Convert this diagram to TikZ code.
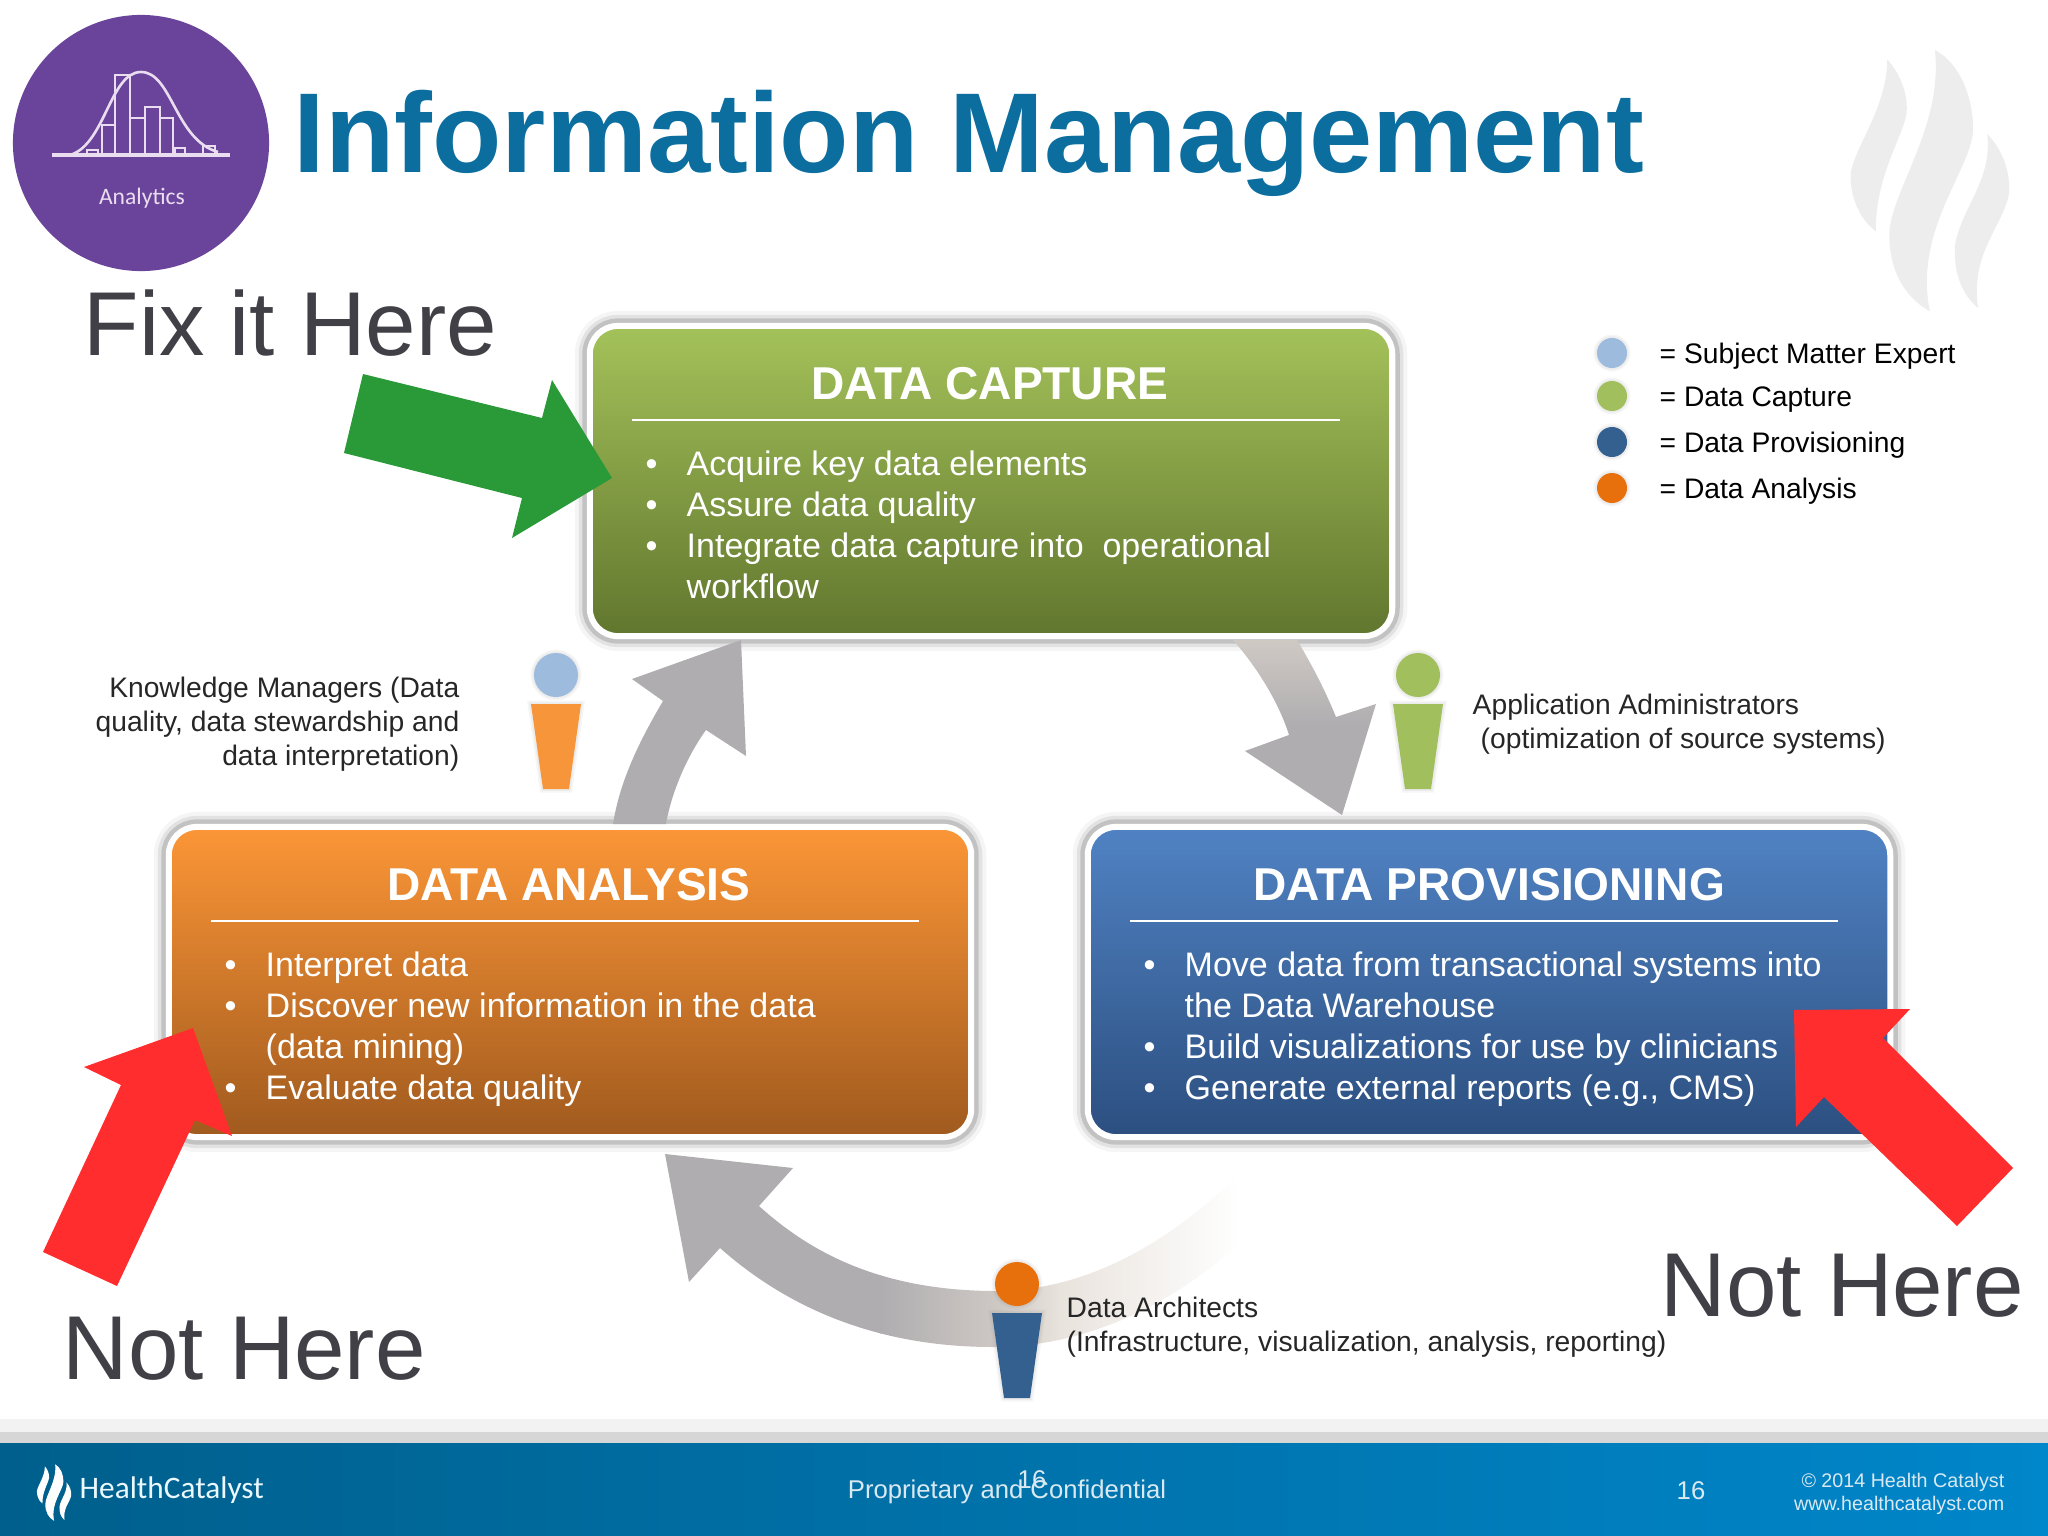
\documentclass[tikz,border=0pt]{standalone}
\usepackage{fontspec}
\setmainfont{Liberation Sans}
\newfontfamily\logofont{Carlito}
\usepackage{xcolor}
\usetikzlibrary{positioning}

\definecolor{titleblue}{HTML}{0B6E9F}
\definecolor{darktext}{HTML}{404046}
\definecolor{arrowgrey}{HTML}{AFADB0}
\definecolor{tailgrey}{HTML}{CFC9C4}
\definecolor{tailpale}{HTML}{E9E3DD}
\definecolor{hotred}{HTML}{FF2D2D}
\definecolor{fixgreen}{HTML}{2A9A38}
\definecolor{smeblue}{HTML}{9DBBDD}
\definecolor{capgreen}{HTML}{A2BF5E}
\definecolor{provblue}{HTML}{33608F}
\definecolor{anaorange}{HTML}{E8700C}
\definecolor{bodyorange}{HTML}{F7953B}
\definecolor{logopurple}{HTML}{6A449B}
\definecolor{logoline}{HTML}{EBDDF0}
\definecolor{footleft}{HTML}{005F8C}
\definecolor{footmid}{HTML}{007AB8}
\definecolor{footright}{HTML}{0086CA}
\definecolor{captop}{HTML}{A4C25A}
\definecolor{capbot}{HTML}{61762E}
\definecolor{anatop}{HTML}{FC9637}
\definecolor{anabot}{HTML}{A05A1E}
\definecolor{provtop}{HTML}{5082C3}
\definecolor{provbot}{HTML}{2C4F80}

\tikzset{
	infobox/.style={rounded corners=0.28cm,draw=white,line width=0.06cm,minimum width=8.02cm,minimum height=3.10cm,
		preaction={draw=black,opacity=.04,line width=0.30cm},
		preaction={draw=black,opacity=.08,line width=0.22cm},
		preaction={draw=black,opacity=.14,line width=0.15cm}},
	boxtitle/.style={text=white,inner sep=0pt,font=\bfseries\fontsize{13.1}{15}\selectfont},
	boxrule/.style={draw=white,line width=0.015cm},
	boxlist/.style={text=white,inner sep=0pt,anchor=north west,align=left,font=\fontsize{9.67}{11.67}\selectfont},
	note/.style={text=black!85,inner sep=0pt,font=\fontsize{8.03}{9.67}\selectfont},
	bigword/.style={text=darktext,inner sep=0pt,anchor=base west,font=\fontsize{25.8}{30}\selectfont},
	footword/.style={text=white!85!titleblue,inner sep=0pt,font=\fontsize{7.3}{9}\selectfont},
	glow/.style={preaction={draw=black!50,opacity=.07,line width=0.07cm},preaction={draw=black!50,opacity=.09,line width=0.035cm}},
	dot/.style={circle,fill=#1,inner sep=0pt,minimum size=0.30cm,glow},
	iconline/.style={draw=logoline,line width=0.026cm},
	pics/flame/.style={code={
		\fill[#1] (262,88) .. controls (300,130) and (325,190) .. (320,250) .. controls (310,320) and (225,440) .. (228,605) .. controls (170,560) and (150,490) .. (152,430) .. controls (165,350) and (262,230) .. cycle;
		\fill[#1] (405,60) .. controls (480,100) and (520,200) .. (520,300) .. controls (515,420) and (340,600) .. (390,845) .. controls (310,800) and (268,720) .. (268,610) .. controls (275,480) and (430,290) .. cycle;
		\fill[#1] (562,312) .. controls (610,360) and (632,430) .. (628,490) .. controls (610,590) and (510,670) .. (535,835) .. controls (480,790) and (462,720) .. (465,650) .. controls (480,540) and (580,450) .. cycle;
	}}
}
\newcommand{\bitem}{\makebox[0.41cm][l]{\textbullet}}
\newcommand{\persona}[5]{%
	\node[dot=#4,minimum size=0.44cm] (#1) at (#2,#3) {};
	\fill[#5,glow] (#2-25,#3+29) -- (#2+25,#3+29) -- (#2+13,#3+114) -- (#2-13,#3+114) -- cycle;
}

\begin{document}
\begin{tikzpicture}[x=0.01cm,y=-0.01cm]
	\useasboundingbox (0,0) rectangle (2048,1536);
	\pic[scale=0.333] at (1800,30) {flame=black!7};

	\fill[white!95!black] (0,1419) rectangle (2048,1443);
	\fill[white!84!black] (0,1432) rectangle (2048,1443);
	\shade[left color=footleft,middle color=footmid,right color=footright] (0,1443) rectangle (2048,1536);

	\node[circle,fill=logopurple,inner sep=0pt,minimum size=2.56cm] (logo) at (141,143) {};
	\draw[iconline] (102,155) rectangle (115,125) (115,155) rectangle (130,75) (130,155) rectangle (145,118) (145,155) rectangle (160,107) (160,155) rectangle (173,118);
	\draw[iconline] (87,155) rectangle (98,150) (175,155) rectangle (185,148) (203,155) rectangle (215,146);
	\draw[iconline] (70,155) .. controls (105,145) and (110,72) .. (141,72) .. controls (172,72) and (175,140) .. (218,152);
	\draw[draw=logoline,line width=0.045cm] (52,155) -- (230,155);
	\node[text=logoline,inner sep=0pt,font=\logofont\fontsize{6.7}{8}\selectfont] (logoword) at (142,198) {Analytics};

	\node[text=titleblue,inner sep=0pt,anchor=base west,font=\bfseries\fontsize{32.3}{38}\selectfont] (title) at (293,172) {Information Management};
	\node[bigword] (fixword) at (83,355) {Fix it Here};
	\node[bigword] (leftword) at (62,1379) {Not Here};
	\node[bigword] (rightword) at (1660,1316) {Not Here};

	\node[infobox,top color=captop,bottom color=capbot] (capture) at (991,481) {};
	\node[infobox,top color=anatop,bottom color=anabot] (analysis) at (570,982) {};
	\node[infobox,top color=provtop,bottom color=provbot] (provisioning) at (1489,982) {};

	\node[boxtitle] (capturetitle) at (990,384) {DATA CAPTURE};
	\draw[boxrule] (632,420) -- (1340,420);
	\node[boxlist] (capturelist) at (645,450) {\bitem Acquire key data elements\\\bitem Assure data quality\\\bitem Integrate data capture into\ \ operational\\\hspace{0.41cm}workflow};

	\node[boxtitle] (analysistitle) at (569,885) {DATA ANALYSIS};
	\draw[boxrule] (211,921) -- (919,921);
	\node[boxlist] (analysislist) at (224,951) {\bitem Interpret data\\\bitem Discover new information in the data\\\hspace{0.41cm}(data mining)\\\bitem Evaluate data quality};

	\node[boxtitle] (provisioningtitle) at (1489,885) {DATA PROVISIONING};
	\draw[boxrule] (1130,921) -- (1838,921);
	\node[boxlist] (provisioninglist) at (1143,951) {\bitem Move data from transactional systems into\\\hspace{0.41cm}the Data Warehouse\\\bitem Build visualizations for use by clinicians\\\bitem Generate external reports (e.g., CMS)};

	\fill[arrowgrey] (741,640) -- (632,679) -- (663,701) .. controls (640,740) and (620,780) .. (613,824) -- (666,824) .. controls (672,790) and (688,755) .. (706,730) -- (746,756) -- cycle;
	\shade[top color=tailgrey,bottom color=arrowgrey,middle color=arrowgrey] (1233,640) .. controls (1255,665) and (1278,700) .. (1289,735) -- (1245,751) -- (1342,815) -- (1376,704) -- (1336,717) .. controls (1325,690) and (1312,665) .. (1297,640) -- cycle;
	\begin{scope}
		\clip (665,1154) -- (793,1168) -- (759,1206) .. controls (810,1252) and (880,1291) .. (997,1291) .. controls (1090,1290) and (1170,1240) .. (1233,1180) -- (1270,1213) .. controls (1190,1300) and (1090,1347) .. (993,1347) .. controls (880,1347) and (790,1310) .. (720,1248) -- (689,1282) -- cycle;
		\fill[arrowgrey] (650,1140) rectangle (881,1360);
		\shade[left color=arrowgrey,right color=tailgrey] (880,1140) rectangle (1001,1360);
		\shade[left color=tailgrey,right color=tailpale] (1000,1140) rectangle (1061,1360);
		\shade[left color=tailpale,right color=white] (1060,1140) rectangle (1240,1360);
		\fill[white] (1239,1140) rectangle (1280,1360);
	\end{scope}

	\persona{leftman}{556}{675}{smeblue}{bodyorange}
	\persona{rightman}{1418}{675}{capgreen}{capgreen}
	\persona{bottomman}{1017}{1284}{anaorange}{provblue}

	\node[note,anchor=east,align=right] (leftnote) at (460,724) {Knowledge Managers (Data\\quality, data stewardship and\\data interpretation)};
	\node[note,anchor=west,align=left] (rightnote) at (1472,724) {Application Administrators\\\hspace{0.08cm}(optimization of source systems)};
	\node[note,anchor=west,align=left] (bottomnote) at (1066,1327) {Data Architects\\(Infrastructure, visualization, analysis, reporting)};

	\foreach \n/\y/\c/\t in {a/353/smeblue/Subject Matter Expert,b/396/capgreen/Data Capture,c/442/provblue/Data Provisioning,d/488/anaorange/Data Analysis}{
		\node[dot=\c] (dot\n) at (1612,\y) {};
		\node[note,anchor=base west,text=black] (key\n) at (1659,\y+10) {= \t};
	}

	\fill[fixgreen] (363,374) -- (542,418) -- (552,380) -- (612,478) -- (512,538) -- (522,498) -- (344,453) -- cycle;
	\fill[hotred] (1794,1010) -- (1910,1009) -- (1883,1038) -- (2013,1168) -- (1957,1226) -- (1824,1097) -- (1796,1127) -- cycle;
	\fill[hotred] (193,1028) -- (84,1067) -- (121,1085) -- (43,1252) -- (117,1286) -- (195,1120) -- (232,1136) -- cycle;

	\pic[scale=0.072] at (26,1460) {flame=white};
	\node[text=white!92!cyan,inner sep=0pt,anchor=base west,font=\logofont\fontsize{8.9}{10}\selectfont] (brand) at (79,1498) {HealthCatalyst};
	\node[footword] (footcentre) at (1007,1492) {Proprietary and Confidential};
	\node[footword] (footnumber) at (1032,1480) {16};
	\node[footword] (footpage) at (1691,1491) {16};
	\node[footword,anchor=east,align=right,font=\fontsize{5.6}{6.4}\selectfont] (footcopy) at (2005,1494) {© 2014 Health Catalyst\\www.healthcatalyst.com};
\end{tikzpicture}
\end{document}
